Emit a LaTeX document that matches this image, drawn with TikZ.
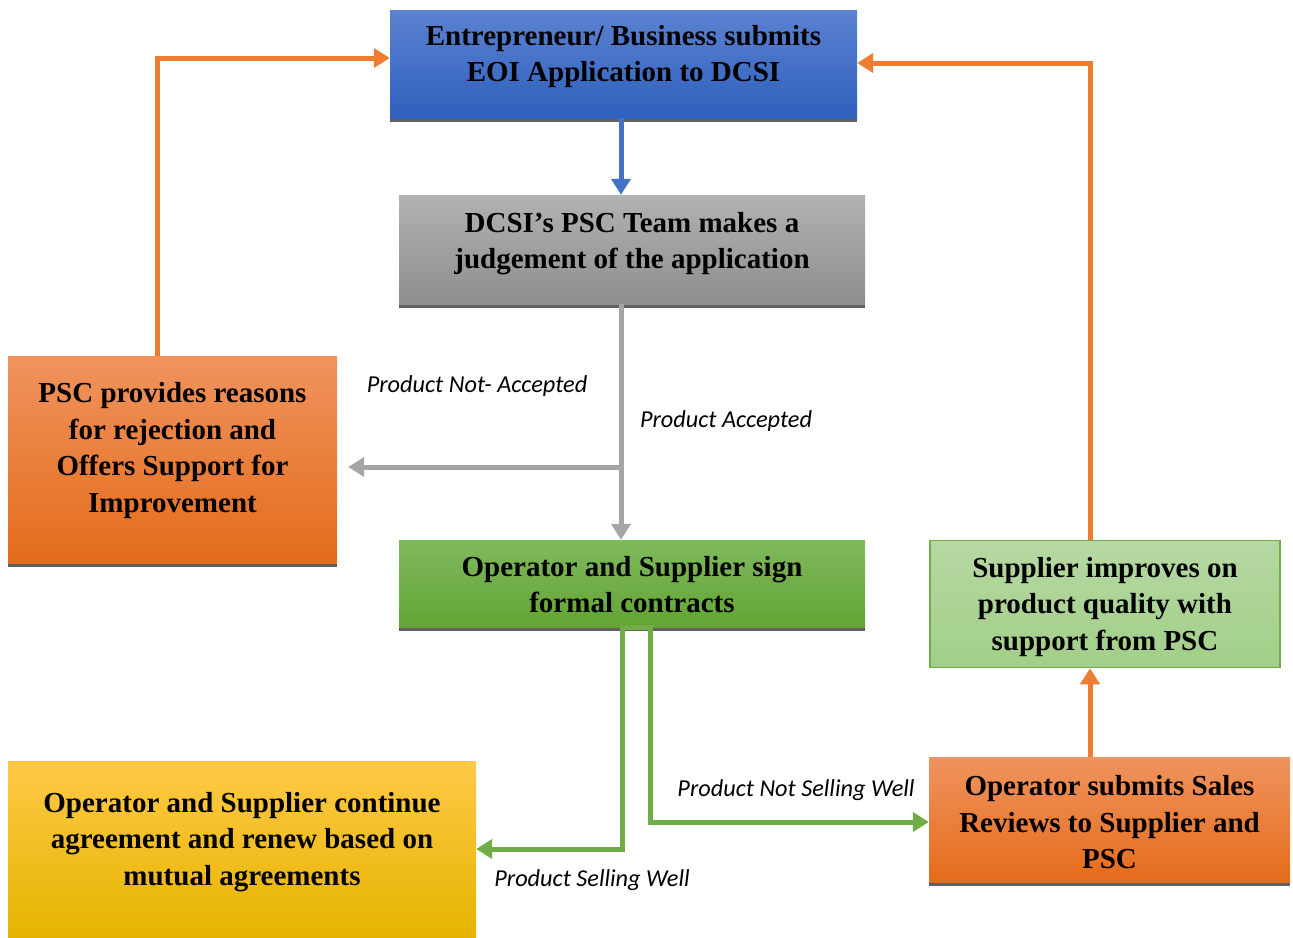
\documentclass[tikz,border=0pt]{standalone}
\usepackage{fontspec}
\setmainfont{Liberation Serif}
\newfontfamily\labelfont{Carlito}
\usetikzlibrary{arrows.meta, shadows}

\definecolor{blueA}{HTML}{5B82D0}
\definecolor{blueB}{HTML}{2F60BE}
\definecolor{grayA}{HTML}{B2B2B2}
\definecolor{grayB}{HTML}{8E8E8E}
\definecolor{orangeA}{HTML}{F0935E}
\definecolor{orangeM}{HTML}{F07E2E}
\definecolor{orangeB}{HTML}{E46C1B}
\definecolor{greenA}{HTML}{80BA5E}
\definecolor{greenB}{HTML}{62A434}
\definecolor{lgreenA}{HTML}{B6D8A3}
\definecolor{lgreenB}{HTML}{A2CF88}
\definecolor{yellowA}{HTML}{FFC947}
\definecolor{yellowM}{HTML}{FFC000}
\definecolor{yellowB}{HTML}{E6B400}
\definecolor{blueline}{HTML}{4472C4}
\definecolor{grayline}{HTML}{A5A5A5}
\definecolor{orangeline}{HTML}{ED7D31}
\definecolor{greenline}{HTML}{70AD47}

\tikzset{
    box/.style 2 args={minimum width=#1, minimum height=#2, inner sep=0pt},
    shade line/.style={drop shadow={shadow xshift=0pt, shadow yshift=-3.5pt, fill=black!62, opacity=1}},
    txt/.style={align=center, font=\fontsize{29}{36.5}\selectfont\bfseries},
    lbl/.style={font=\fontsize{24.3}{27}\selectfont\labelfont\itshape},
    link/.style={line width=5pt, -{Triangle[width=19pt,length=16pt]}}
}

\begin{document}
\begin{tikzpicture}[x=1pt, y=-1pt]
    \useasboundingbox (0,0) rectangle (1293,937);

    % boxes
    \node[box={467pt}{108pt}, top color=blueA, bottom color=blueB, shade line] (eoi) at (623.5,64) {};
    \node[box={466pt}{109pt}, top color=grayA, bottom color=grayB, shade line] (judge) at (632,249.5) {};
    \node[box={329pt}{207pt}, top color=orangeA, middle color=orangeM, bottom color=orangeB, shade line] (reject) at (172.5,459.5) {};
    \node[box={466pt}{87pt}, top color=greenA, bottom color=greenB, shade line] (contract) at (632,583.5) {};
    \node[box={350pt}{127pt}, top color=lgreenA, bottom color=lgreenB, draw=greenline, line width=1.5pt] (improve) at (1105,604) {};
    \node[box={361pt}{125pt}, top color=orangeA, middle color=orangeM, bottom color=orangeB, shade line] (review) at (1109.5,819.5) {};
    \node[box={468pt}{176pt}, top color=yellowA, middle color=yellowM, bottom color=yellowB] (renew) at (242,849) {};

    % box texts
    \node[txt] (eoitext) at ([yshift=7.5pt]eoi) {Entrepreneur/ Business submits\\EOI Application to DCSI};
    \node[txt] (judgetext) at ([yshift=6pt]judge) {DCSI’s PSC Team makes a\\judgement of the application};
    \node[txt] (rejecttext) at ([yshift=9pt]reject) {PSC provides reasons\\for rejection and\\Offers Support for\\Improvement};
    \node[txt] (contracttext) at ([yshift=-1pt]contract) {Operator and Supplier sign\\formal contracts};
    \node[txt] (improvetext) at ([yshift=-3pt]improve) {Supplier improves on\\product quality with\\support from PSC};
    \node[txt] (reviewtext) at ([yshift=-3pt]review) {Operator submits Sales\\Reviews to Supplier and\\PSC};
    \node[txt] (renewtext) at ([yshift=7pt]renew) {Operator and Supplier continue\\agreement and renew based on\\mutual agreements};

    % labels
    \node[lbl] (notacc) at (477,386) {Product Not- Accepted};
    \node[lbl] (acc) at (726,421) {Product Accepted};
    \node[lbl] (notsell) at (796,790) {Product Not Selling Well};
    \node[lbl] (sell) at (592,880) {Product Selling Well};

    \coordinate (fork) at (621,467);

    % connectors
    \draw[link, blueline] ([xshift=-2.5pt]eoi.south) -- ([xshift=-2.5pt]eoi.south |- judge.north);
    \draw[link, grayline] (judge.south -| fork) -- (contract.north -| fork);
    \draw[link, grayline] (fork) -- ([xshift=11pt]reject.east |- fork);
    \draw[link, orangeline] ([xshift=-15.5pt]reject.north) |- ([yshift=6pt]eoi.west);
    \draw[link, orangeline] ([xshift=-15pt]improve.north) |- ([yshift=1pt]eoi.east);
    \draw[link, orangeline] ([xshift=-19.5pt]review.north) -- ([xshift=-19.5pt]review.north |- improve.south);
    \draw[link, greenline] (contract.south) -- ++(-10,0) |- (renew.east);
    \draw[link, greenline] (contract.south) -- ++(18,0) |- ([yshift=-2.5pt]review.west);
\end{tikzpicture}
\end{document}
